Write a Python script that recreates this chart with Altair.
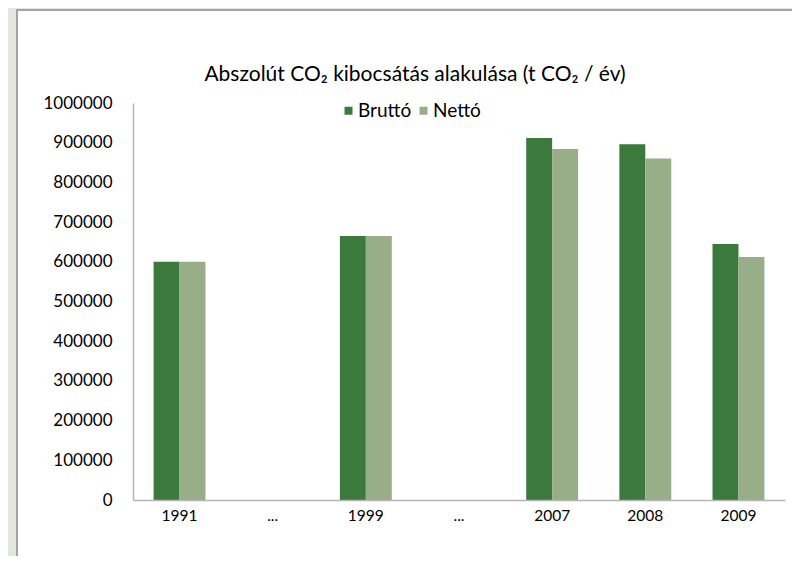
import altair as alt
import pandas as pd

# Data
positions = ["0", "1", "2", "3", "4", "5", "6"]
labels = ["1991", "...", "1999", "...", "2007", "2008", "2009"]
brutto = [600000, None, 665000, None, 912000, 896000, 645000]
netto = [600000, None, 665000, None, 884000, 860000, 612000]
series = ["Bruttó", "Nettó"]
colors = ["#3b7a3c", "#97ae89"]
title_text = "Abszolút CO₂ kibocsátás alakulása (t CO₂ / év)"

rows = []
for p, b, n in zip(positions, brutto, netto):
    if b is not None:
        rows.append({"pos": p, "series": "Bruttó", "value": b})
    if n is not None:
        rows.append({"pos": p, "series": "Nettó", "value": n})
df = pd.DataFrame(rows)

FONT = "Lato"
label_expr = "[" + ",".join(f"'{l}'" for l in labels) + "][toNumber(datum.value)]"

W, H = 652, 397
PL, PT, PR, PB = 125, 95, 7, 56

frame = alt.Chart(alt.Data(values=[{}])).mark_rect(
    fill="white", stroke="#a3a3a3", strokeWidth=2, clip=False
).encode(
    x=alt.value(-116), x2=alt.value(W + 60),
    y=alt.value(-93), y2=alt.value(H + 80),
)

title = alt.Chart(alt.Data(values=[{"t": title_text}])).mark_text(
    font=FONT, fontSize=21, color="#000", align="center", baseline="middle"
).encode(text="t:N", x=alt.value(282), y=alt.value(-28))

bars = alt.Chart(df).mark_bar().encode(
    x=alt.X("pos:N", scale=alt.Scale(domain=positions, paddingInner=0.443, paddingOuter=0.221),
            axis=alt.Axis(title=None, labelExpr=label_expr, labelAngle=0, ticks=False, tickSize=0,
                          labelPadding=8, domainColor="#b5b5b5", domainWidth=1.5, zindex=1,
                          labelFont=FONT, labelFontSize=15.5, labelColor="#000")),
    xOffset=alt.XOffset("series:N", scale=alt.Scale(domain=series, paddingInner=0, paddingOuter=0)),
    y=alt.Y("value:Q", scale=alt.Scale(domain=[0, 1000000], nice=False),
            axis=alt.Axis(title=None, values=list(range(0, 1000001, 100000)), format="d",
                          grid=False, ticks=False, tickSize=0, labelPadding=21, zindex=1,
                          domainColor="#b5b5b5", domainWidth=1.5,
                          labelFont=FONT, labelFontSize=17, labelColor="#000")),
    color=alt.Color("series:N", scale=alt.Scale(domain=series, range=colors),
                    legend=alt.Legend(title=None, orient="none", direction="horizontal",
                                      legendX=206, legendY=-2, symbolType="square",
                                      symbolSize=64, symbolStrokeWidth=0, labelOffset=0,
                                      columnPadding=2, labelFont=FONT, labelFontSize=19,
                                      labelColor="#000", zindex=1)),
)

chart = alt.layer(frame, title, bars).properties(
    width=W, height=H,
    autosize=alt.AutoSizeParams(type="none"),
    padding={"left": PL, "top": PT, "right": PR, "bottom": PB},
    background="#e3e6dd",
).configure_view(stroke=None)

chart.save("out.html", embed_options={"renderer": "svg", "actions": False})
